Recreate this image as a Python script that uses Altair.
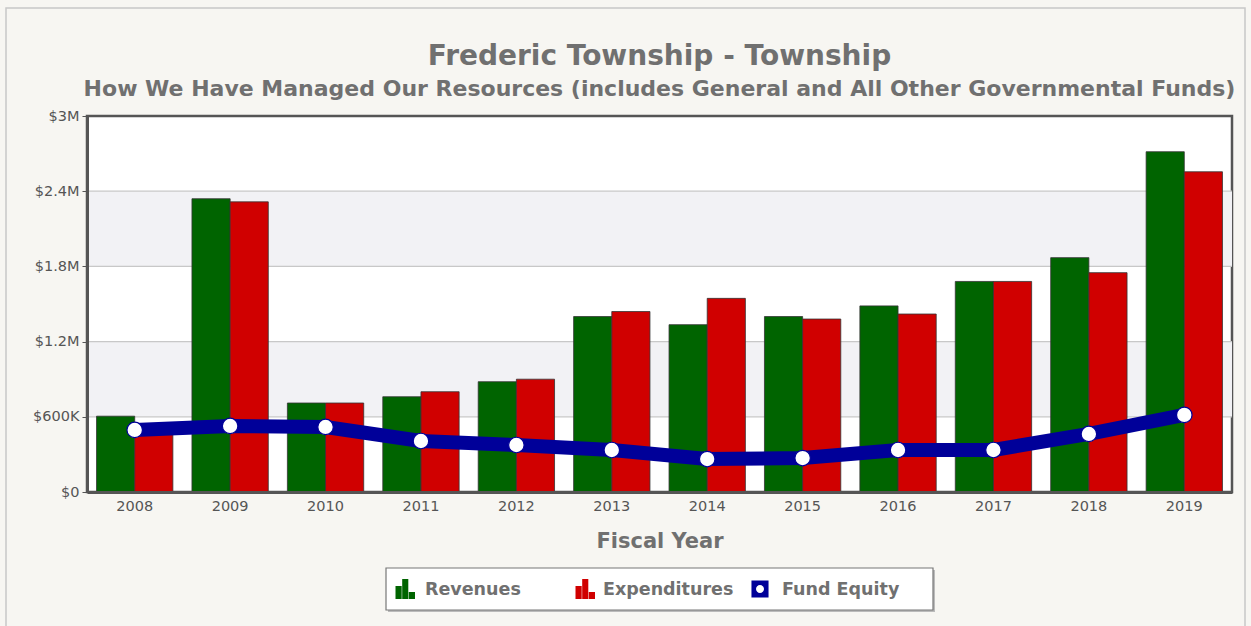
import altair as alt
import pandas as pd

years = ["2008", "2009", "2010", "2011", "2012", "2013", "2014", "2015", "2016", "2017", "2018", "2019"]
revenues = [605000, 2340000, 710000, 760000, 880000, 1400000, 1335000, 1400000, 1485000, 1680000, 1870000, 2715000]
expenditures = [480000, 2315000, 710000, 800000, 900000, 1440000, 1545000, 1380000, 1420000, 1680000, 1750000, 2555000]
equity = [495000, 527000, 519000, 407000, 375000, 335000, 263000, 271000, 335000, 335000, 463000, 615000]
series = ["Revenues", "Expenditures", "Fund Equity"]
colors = ["#006400", "#d00000", "#000099"]
y_ticks = [0, 600000, 1200000, 1800000, 2400000, 3000000]

FONT = "DejaVu Sans"
GRAY = "#707070"

bars_df = pd.DataFrame(
    [{"year": y, "series": "Revenues", "value": v} for y, v in zip(years, revenues)]
    + [{"year": y, "series": "Expenditures", "value": v} for y, v in zip(years, expenditures)]
)
eq_df = pd.DataFrame({"year": years, "value": equity, "series": "Fund Equity"})
bands_df = pd.DataFrame({"y0": [y_ticks[1], y_ticks[3]], "y1": [y_ticks[2], y_ticks[4]]})
grid_df = pd.DataFrame({"y": y_ticks[1:-1]})
one = pd.DataFrame({"k": [0]})

y_scale = alt.Scale(domain=[y_ticks[0], y_ticks[-1]], nice=False)
color_scale = alt.Scale(domain=series, range=colors)

bar_icon = ("M-0.95,1L-0.95,-0.3L-0.33,-0.3L-0.33,1Z M-0.28,1L-0.28,-1L0.33,-1L0.33,1Z "
            "M0.38,1L0.38,0.3L1,0.3L1,1Z")
eq_icon = ("M-0.9,-0.9L0.9,-0.9L0.9,0.9L-0.9,0.9Z "
           "M0,-0.42A0.42,0.42 0 1,0 0,0.42A0.42,0.42 0 1,0 0,-0.42Z")

x_enc = alt.X(
    "year:N", sort=years,
    scale=alt.Scale(paddingInner=0.2, paddingOuter=0.1),
    axis=alt.Axis(labelAngle=0, title="Fiscal Year", titleFont=FONT, titleFontSize=21,
                  titleFontWeight="bold", titleColor=GRAY, titlePadding=18,
                  labelFont=FONT, labelFontSize=14.5, labelColor="#555", labelPadding=7,
                  tickSize=0, domainColor="#555", domainWidth=3, zindex=1),
)

y_axis = alt.Axis(values=y_ticks, title=None, grid=False,
                  labelExpr="datum.value == 0 ? '$0' : datum.value < 1000000 ? '$' + format(datum.value/1000, 'd') + 'K' : '$' + format(datum.value/1000000, '~g') + 'M'",
                  labelFont=FONT, labelFontSize=14.5, labelColor="#555", labelPadding=3,
                  tickSize=5, tickColor="#555", domainColor="#555", domainWidth=3, zindex=1)

bands = alt.Chart(bands_df).mark_rect(color="#f2f2f5").encode(
    y=alt.Y("y0:Q", scale=y_scale, axis=y_axis), y2="y1:Q"
)
grid = alt.Chart(grid_df).mark_rule(color="#c8c8c8", strokeWidth=1.2).encode(
    y=alt.Y("y:Q", scale=y_scale)
)
bars = alt.Chart(bars_df).mark_bar(stroke="#333", strokeWidth=0.8).encode(
    x=x_enc,
    xOffset=alt.XOffset("series:N", sort=series[:2], scale=alt.Scale(paddingInner=0, paddingOuter=0)),
    y=alt.Y("value:Q", scale=y_scale),
    color=alt.Color("series:N", scale=color_scale, legend=None),
)
line = alt.Chart(eq_df).mark_line(strokeWidth=14, strokeJoin="round", strokeCap="round").encode(
    x=alt.X("year:N", sort=years),
    y=alt.Y("value:Q", scale=y_scale),
    color=alt.Color("series:N", scale=color_scale, legend=None),
)
points = alt.Chart(eq_df).mark_point(filled=True, fill="white", stroke="#000099",
                                     strokeWidth=1.2, size=240, opacity=1).encode(
    x=alt.X("year:N", sort=years),
    y=alt.Y("value:Q", scale=y_scale),
)

# legend box (decoration), positions relative to plot origin
OX, OY = 87, 116
lg_shadow = alt.Chart(one).mark_rect(fill="#bbbbbb").encode(
    x=alt.value(386 - OX + 2), x2=alt.value(933 - OX + 2),
    y=alt.value(568 - OY + 2), y2=alt.value(610 - OY + 2))
lg_box = alt.Chart(one).mark_rect(fill="white", stroke="#777", strokeWidth=1.2).encode(
    x=alt.value(386 - OX), x2=alt.value(933 - OX),
    y=alt.value(568 - OY), y2=alt.value(610 - OY))
legend_layers = [lg_shadow, lg_box]
icon_x = [405, 585, 760]
label_x = [425, 603, 782]
icons = [bar_icon, bar_icon, eq_icon]
icon_size = [400, 400, 360]
for name, col, ix, lx, ic, sz in zip(series, colors, icon_x, label_x, icons, icon_size):
    legend_layers.append(
        alt.Chart(one).mark_point(shape=ic, filled=True, fill=col, strokeWidth=0,
                                  size=sz, opacity=1).encode(
            x=alt.value(ix - OX), y=alt.value(589 - OY)))
    legend_layers.append(
        alt.Chart(one).mark_text(text=name, font=FONT, fontSize=17.5, fontWeight="bold",
                                 color=GRAY, align="left", baseline="middle").encode(
            x=alt.value(lx - OX), y=alt.value(590 - OY)))

frame = alt.Chart(one).mark_rect(fill=None, stroke="#c8c8c8", strokeWidth=1.5).encode(
    x=alt.value(6 - OX), x2=alt.value(1245 - OX),
    y=alt.value(8 - OY), y2=alt.value(640 - OY))

chart = alt.layer(frame, bands, grid, bars, line, points, *legend_layers).properties(
    width=1145, height=376,
    autosize=alt.AutoSizeParams(type="none"),
    padding={"left": 87, "top": 116, "right": 19, "bottom": 134},
    background="#f7f6f2",
    title=alt.TitleParams(
        text="Frederic Township - Township",
        subtitle="How We Have Managed Our Resources (includes General and All Other Governmental Funds)",
        anchor="middle", frame="group",
        font=FONT, fontSize=28, fontWeight="bold", color=GRAY,
        subtitleFont=FONT, subtitleFontSize=22, subtitleFontWeight="bold", subtitleColor=GRAY,
        subtitlePadding=8, offset=-93,
    ),
).configure_view(stroke="#555", strokeWidth=2.5, fill="white")

chart.save("out.html", embed_options={"renderer": "svg", "actions": False})
